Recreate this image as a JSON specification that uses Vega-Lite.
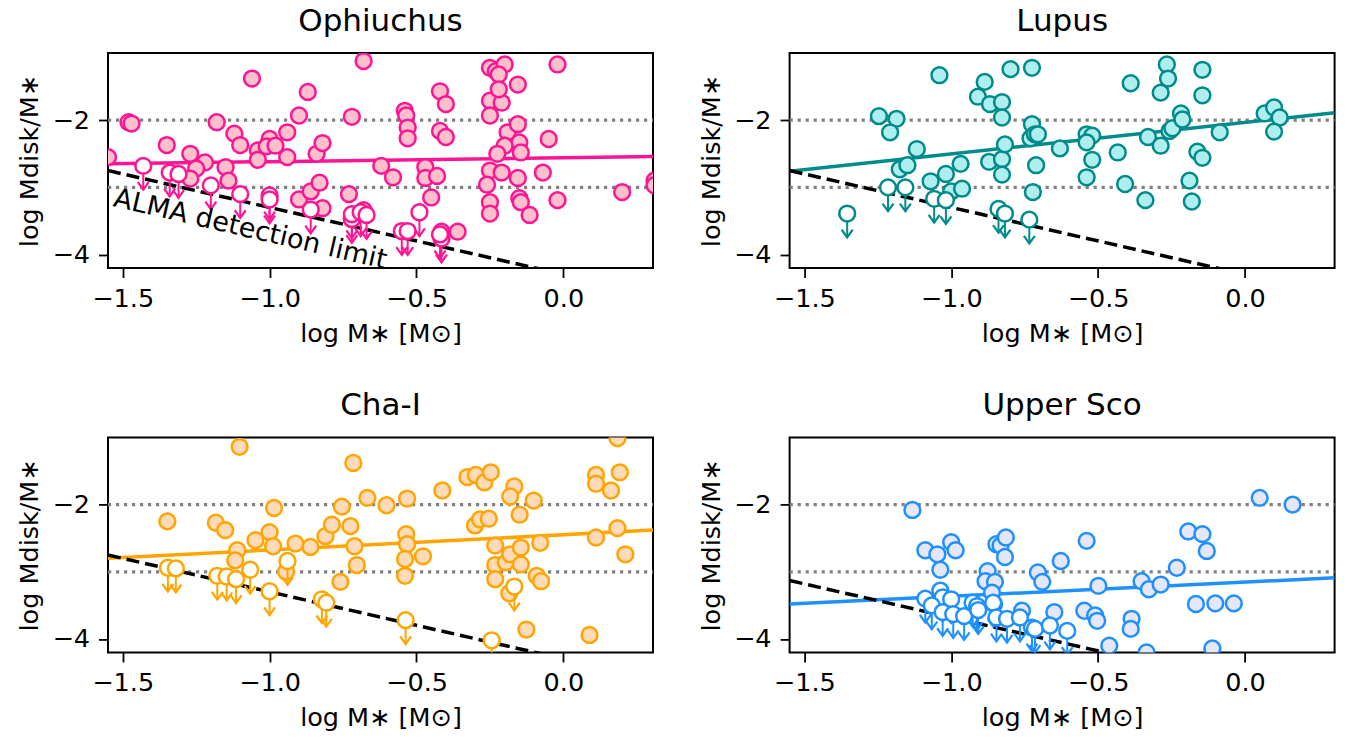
{
"$schema": "https://vega.github.io/schema/vega-lite/v6.json",
"padding": {"left": 16, "top": 5, "right": 5, "bottom": 0},
"autosize": {"type": "pad"},
"datasets": {"d": [
{"region":"all","kind":"ref","grp":"a","logM":-1.55,"ratio":-2},{"region":"all","kind":"ref","grp":"a","logM":0.305,"ratio":-2},
{"region":"all","kind":"ref","grp":"b","logM":-1.55,"ratio":-3},{"region":"all","kind":"ref","grp":"b","logM":0.305,"ratio":-3},
{"region":"Oph","kind":"fit","logM":-1.55,"ratio":-2.65},{"region":"Oph","kind":"fit","logM":0.305,"ratio":-2.54},
{"region":"Lup","kind":"fit","logM":-1.55,"ratio":-2.76},{"region":"Lup","kind":"fit","logM":0.305,"ratio":-1.89},
{"region":"Cha","kind":"fit","logM":-1.55,"ratio":-2.80},{"region":"Cha","kind":"fit","logM":0.305,"ratio":-2.38},
{"region":"USco","kind":"fit","logM":-1.55,"ratio":-3.48},{"region":"USco","kind":"fit","logM":0.305,"ratio":-3.09},
{"region":"Oph","kind":"alma","logM":-1.55,"ratio":-2.75},{"region":"Oph","kind":"alma","logM":0.305,"ratio":-4.6},
{"region":"Lup","kind":"alma","logM":-1.55,"ratio":-2.75},{"region":"Lup","kind":"alma","logM":0.305,"ratio":-4.6},
{"region":"Cha","kind":"alma","logM":-1.55,"ratio":-2.75},{"region":"Cha","kind":"alma","logM":0.305,"ratio":-4.6},
{"region":"USco","kind":"alma","logM":-1.55,"ratio":-3.13},{"region":"USco","kind":"alma","logM":0.305,"ratio":-4.98},
{"region":"Oph","kind":"label","logM":-1.066,"ratio":-3.63,"label":"ALMA detection limit"},

{"region":"Oph","kind":"det","logM":-1.55,"ratio":-2.55},{"region":"Oph","kind":"det","logM":-1.48,"ratio":-2.03},{"region":"Oph","kind":"det","logM":-1.47,"ratio":-2.05},
{"region":"Oph","kind":"det","logM":-1.35,"ratio":-2.37},{"region":"Oph","kind":"det","logM":-1.27,"ratio":-2.50},{"region":"Oph","kind":"det","logM":-1.22,"ratio":-2.63},
{"region":"Oph","kind":"det","logM":-1.25,"ratio":-2.72},{"region":"Oph","kind":"det","logM":-1.27,"ratio":-2.87},{"region":"Oph","kind":"det","logM":-1.18,"ratio":-2.03},
{"region":"Oph","kind":"det","logM":-1.15,"ratio":-2.70},{"region":"Oph","kind":"det","logM":-1.14,"ratio":-2.90},{"region":"Oph","kind":"det","logM":-1.12,"ratio":-2.20},
{"region":"Oph","kind":"det","logM":-1.10,"ratio":-2.37},{"region":"Oph","kind":"det","logM":-1.06,"ratio":-1.38},{"region":"Oph","kind":"det","logM":-1.04,"ratio":-2.45},
{"region":"Oph","kind":"det","logM":-1.04,"ratio":-2.59},{"region":"Oph","kind":"det","logM":-1.00,"ratio":-2.28},{"region":"Oph","kind":"det","logM":-1.01,"ratio":-2.39},
{"region":"Oph","kind":"det","logM":-0.98,"ratio":-2.38},{"region":"Oph","kind":"det","logM":-0.94,"ratio":-2.18},{"region":"Oph","kind":"det","logM":-0.94,"ratio":-2.55},
{"region":"Oph","kind":"det","logM":-0.90,"ratio":-1.93},{"region":"Oph","kind":"det","logM":-0.87,"ratio":-1.58},{"region":"Oph","kind":"det","logM":-0.90,"ratio":-3.18},
{"region":"Oph","kind":"det","logM":-0.86,"ratio":-3.06},{"region":"Oph","kind":"det","logM":-0.83,"ratio":-2.93},{"region":"Oph","kind":"det","logM":-0.82,"ratio":-3.31},
{"region":"Oph","kind":"det","logM":-0.84,"ratio":-2.50},{"region":"Oph","kind":"det","logM":-0.82,"ratio":-2.34},{"region":"Oph","kind":"det","logM":-0.72,"ratio":-1.95},
{"region":"Oph","kind":"det","logM":-0.73,"ratio":-3.10},{"region":"Oph","kind":"det","logM":-0.68,"ratio":-1.12},{"region":"Oph","kind":"det","logM":-0.72,"ratio":-3.47},
{"region":"Oph","kind":"det","logM":-0.68,"ratio":-3.34},{"region":"Oph","kind":"det","logM":-0.62,"ratio":-2.68},{"region":"Oph","kind":"det","logM":-0.58,"ratio":-2.85},
{"region":"Oph","kind":"det","logM":-0.54,"ratio":-1.86},{"region":"Oph","kind":"det","logM":-0.535,"ratio":-1.93},{"region":"Oph","kind":"det","logM":-0.53,"ratio":-2.11},
{"region":"Oph","kind":"det","logM":-0.53,"ratio":-2.27},{"region":"Oph","kind":"det","logM":-0.47,"ratio":-2.70},{"region":"Oph","kind":"det","logM":-0.47,"ratio":-2.86},
{"region":"Oph","kind":"det","logM":-0.43,"ratio":-2.83},{"region":"Oph","kind":"det","logM":-0.45,"ratio":-3.15},{"region":"Oph","kind":"det","logM":-0.42,"ratio":-1.57},
{"region":"Oph","kind":"det","logM":-0.40,"ratio":-1.76},{"region":"Oph","kind":"det","logM":-0.42,"ratio":-2.16},{"region":"Oph","kind":"det","logM":-0.40,"ratio":-2.25},
{"region":"Oph","kind":"det","logM":-0.415,"ratio":-3.66},{"region":"Oph","kind":"det","logM":-0.36,"ratio":-3.66},{"region":"Oph","kind":"det","logM":-0.25,"ratio":-1.22},
{"region":"Oph","kind":"det","logM":-0.23,"ratio":-1.27},{"region":"Oph","kind":"det","logM":-0.20,"ratio":-1.17},{"region":"Oph","kind":"det","logM":-0.22,"ratio":-1.32},
{"region":"Oph","kind":"det","logM":-0.155,"ratio":-1.47},{"region":"Oph","kind":"det","logM":-0.25,"ratio":-1.71},{"region":"Oph","kind":"det","logM":-0.21,"ratio":-1.74},
{"region":"Oph","kind":"det","logM":-0.22,"ratio":-1.54},{"region":"Oph","kind":"det","logM":-0.25,"ratio":-1.93},{"region":"Oph","kind":"det","logM":-0.19,"ratio":-2.18},
{"region":"Oph","kind":"det","logM":-0.155,"ratio":-2.06},{"region":"Oph","kind":"det","logM":-0.15,"ratio":-2.33},{"region":"Oph","kind":"det","logM":-0.20,"ratio":-2.38},
{"region":"Oph","kind":"det","logM":-0.225,"ratio":-2.50},{"region":"Oph","kind":"det","logM":-0.145,"ratio":-2.48},{"region":"Oph","kind":"det","logM":-0.25,"ratio":-2.75},
{"region":"Oph","kind":"det","logM":-0.21,"ratio":-2.78},{"region":"Oph","kind":"det","logM":-0.26,"ratio":-2.96},{"region":"Oph","kind":"det","logM":-0.155,"ratio":-2.86},
{"region":"Oph","kind":"det","logM":-0.25,"ratio":-3.22},{"region":"Oph","kind":"det","logM":-0.25,"ratio":-3.39},{"region":"Oph","kind":"det","logM":-0.15,"ratio":-3.16},
{"region":"Oph","kind":"det","logM":-0.145,"ratio":-3.22},{"region":"Oph","kind":"det","logM":-0.115,"ratio":-3.41},{"region":"Oph","kind":"det","logM":-0.07,"ratio":-2.78},
{"region":"Oph","kind":"det","logM":-0.05,"ratio":-2.28},{"region":"Oph","kind":"det","logM":-0.02,"ratio":-3.19},{"region":"Oph","kind":"det","logM":-0.02,"ratio":-1.17},
{"region":"Oph","kind":"det","logM":0.20,"ratio":-3.07},{"region":"Oph","kind":"det","logM":0.31,"ratio":-2.90},{"region":"Oph","kind":"det","logM":0.31,"ratio":-2.97},
{"region":"Oph","kind":"lim","logM":-1.43,"ratio":-2.68},{"region":"Oph","kind":"lim","logM":-1.34,"ratio":-2.78},{"region":"Oph","kind":"lim","logM":-1.31,"ratio":-2.80},
{"region":"Oph","kind":"lim","logM":-1.20,"ratio":-2.97},{"region":"Oph","kind":"lim","logM":-1.10,"ratio":-3.10},{"region":"Oph","kind":"lim","logM":-1.00,"ratio":-3.12},
{"region":"Oph","kind":"lim","logM":-1.00,"ratio":-3.18},{"region":"Oph","kind":"lim","logM":-0.86,"ratio":-3.33},{"region":"Oph","kind":"lim","logM":-0.72,"ratio":-3.47},
{"region":"Oph","kind":"lim","logM":-0.72,"ratio":-3.40},{"region":"Oph","kind":"lim","logM":-0.69,"ratio":-3.37},{"region":"Oph","kind":"lim","logM":-0.67,"ratio":-3.41},
{"region":"Oph","kind":"lim","logM":-0.49,"ratio":-3.37},{"region":"Oph","kind":"lim","logM":-0.55,"ratio":-3.65},{"region":"Oph","kind":"lim","logM":-0.53,"ratio":-3.65},
{"region":"Oph","kind":"lim","logM":-0.415,"ratio":-3.76},{"region":"Oph","kind":"lim","logM":-0.42,"ratio":-3.70},

{"region":"Lup","kind":"det","logM":-1.04,"ratio":-1.33},{"region":"Lup","kind":"det","logM":-1.246,"ratio":-1.94},{"region":"Lup","kind":"det","logM":-1.186,"ratio":-1.98},
{"region":"Lup","kind":"det","logM":-1.208,"ratio":-2.18},{"region":"Lup","kind":"det","logM":-1.117,"ratio":-2.43},{"region":"Lup","kind":"det","logM":-1.175,"ratio":-2.73},
{"region":"Lup","kind":"det","logM":-1.149,"ratio":-2.67},{"region":"Lup","kind":"det","logM":-1.07,"ratio":-2.91},{"region":"Lup","kind":"det","logM":-1.018,"ratio":-2.80},
{"region":"Lup","kind":"det","logM":-0.968,"ratio":-2.65},{"region":"Lup","kind":"det","logM":-1.0,"ratio":-3.06},{"region":"Lup","kind":"det","logM":-0.963,"ratio":-3.02},
{"region":"Lup","kind":"det","logM":-0.886,"ratio":-1.43},{"region":"Lup","kind":"det","logM":-0.909,"ratio":-1.65},{"region":"Lup","kind":"det","logM":-0.868,"ratio":-1.76},
{"region":"Lup","kind":"det","logM":-0.827,"ratio":-1.73},{"region":"Lup","kind":"det","logM":-0.827,"ratio":-1.96},{"region":"Lup","kind":"det","logM":-0.798,"ratio":-1.24},
{"region":"Lup","kind":"det","logM":-0.725,"ratio":-1.22},{"region":"Lup","kind":"det","logM":-0.871,"ratio":-2.62},{"region":"Lup","kind":"det","logM":-0.827,"ratio":-2.58},
{"region":"Lup","kind":"det","logM":-0.817,"ratio":-2.36},{"region":"Lup","kind":"det","logM":-0.827,"ratio":-2.81},{"region":"Lup","kind":"det","logM":-0.725,"ratio":-2.06},
{"region":"Lup","kind":"det","logM":-0.73,"ratio":-2.27},{"region":"Lup","kind":"det","logM":-0.715,"ratio":-2.21},{"region":"Lup","kind":"det","logM":-0.705,"ratio":-2.21},
{"region":"Lup","kind":"det","logM":-0.711,"ratio":-2.67},{"region":"Lup","kind":"det","logM":-0.722,"ratio":-3.07},{"region":"Lup","kind":"det","logM":-0.63,"ratio":-2.42},
{"region":"Lup","kind":"det","logM":-0.539,"ratio":-2.21},{"region":"Lup","kind":"det","logM":-0.52,"ratio":-2.23},{"region":"Lup","kind":"det","logM":-0.539,"ratio":-2.33},
{"region":"Lup","kind":"det","logM":-0.52,"ratio":-2.59},{"region":"Lup","kind":"det","logM":-0.539,"ratio":-2.85},{"region":"Lup","kind":"det","logM":-0.433,"ratio":-2.48},
{"region":"Lup","kind":"det","logM":-0.408,"ratio":-2.95},{"region":"Lup","kind":"det","logM":-0.389,"ratio":-1.45},{"region":"Lup","kind":"det","logM":-0.339,"ratio":-3.19},
{"region":"Lup","kind":"det","logM":-0.33,"ratio":-2.25},{"region":"Lup","kind":"det","logM":-0.287,"ratio":-1.59},{"region":"Lup","kind":"det","logM":-0.287,"ratio":-2.38},
{"region":"Lup","kind":"det","logM":-0.266,"ratio":-1.17},{"region":"Lup","kind":"det","logM":-0.262,"ratio":-1.38},{"region":"Lup","kind":"det","logM":-0.257,"ratio":-2.16},
{"region":"Lup","kind":"det","logM":-0.247,"ratio":-2.12},{"region":"Lup","kind":"det","logM":-0.218,"ratio":-1.90},{"region":"Lup","kind":"det","logM":-0.213,"ratio":-1.99},
{"region":"Lup","kind":"det","logM":-0.189,"ratio":-2.90},{"region":"Lup","kind":"det","logM":-0.181,"ratio":-3.21},{"region":"Lup","kind":"det","logM":-0.162,"ratio":-2.47},
{"region":"Lup","kind":"det","logM":-0.145,"ratio":-2.56},{"region":"Lup","kind":"det","logM":-0.145,"ratio":-1.25},{"region":"Lup","kind":"det","logM":-0.145,"ratio":-1.63},
{"region":"Lup","kind":"det","logM":-0.086,"ratio":-2.18},{"region":"Lup","kind":"det","logM":0.067,"ratio":-1.90},{"region":"Lup","kind":"det","logM":0.099,"ratio":-1.81},
{"region":"Lup","kind":"det","logM":0.118,"ratio":-1.96},{"region":"Lup","kind":"det","logM":0.099,"ratio":-2.17},
{"region":"Lup","kind":"lim","logM":-1.354,"ratio":-3.39},{"region":"Lup","kind":"lim","logM":-1.215,"ratio":-3.00},{"region":"Lup","kind":"lim","logM":-1.156,"ratio":-3.00},
{"region":"Lup","kind":"lim","logM":-1.058,"ratio":-3.17},{"region":"Lup","kind":"lim","logM":-1.018,"ratio":-3.19},{"region":"Lup","kind":"lim","logM":-0.839,"ratio":-3.32},
{"region":"Lup","kind":"lim","logM":-0.817,"ratio":-3.39},{"region":"Lup","kind":"lim","logM":-0.734,"ratio":-3.48},

{"region":"Cha","kind":"det","logM":-1.102,"ratio":-1.14},{"region":"Cha","kind":"det","logM":-0.715,"ratio":-1.38},{"region":"Cha","kind":"det","logM":-1.348,"ratio":-2.25},
{"region":"Cha","kind":"det","logM":-1.183,"ratio":-2.27},{"region":"Cha","kind":"det","logM":-1.151,"ratio":-2.38},{"region":"Cha","kind":"det","logM":-1.0,"ratio":-2.41},
{"region":"Cha","kind":"det","logM":-0.985,"ratio":-2.05},{"region":"Cha","kind":"det","logM":-1.048,"ratio":-2.53},{"region":"Cha","kind":"det","logM":-0.988,"ratio":-2.62},
{"region":"Cha","kind":"det","logM":-1.11,"ratio":-2.68},{"region":"Cha","kind":"det","logM":-1.117,"ratio":-2.83},{"region":"Cha","kind":"det","logM":-0.944,"ratio":-3.0},
{"region":"Cha","kind":"det","logM":-0.912,"ratio":-2.58},{"region":"Cha","kind":"det","logM":-0.861,"ratio":-2.63},{"region":"Cha","kind":"det","logM":-0.81,"ratio":-2.47},
{"region":"Cha","kind":"det","logM":-0.788,"ratio":-2.30},{"region":"Cha","kind":"det","logM":-0.754,"ratio":-2.03},{"region":"Cha","kind":"det","logM":-0.725,"ratio":-2.32},
{"region":"Cha","kind":"det","logM":-0.711,"ratio":-2.62},{"region":"Cha","kind":"det","logM":-0.703,"ratio":-2.90},{"region":"Cha","kind":"det","logM":-0.759,"ratio":-3.15},
{"region":"Cha","kind":"det","logM":-0.667,"ratio":-1.90},{"region":"Cha","kind":"det","logM":-0.602,"ratio":-2.01},{"region":"Cha","kind":"det","logM":-0.532,"ratio":-1.91},
{"region":"Cha","kind":"det","logM":-0.535,"ratio":-2.44},{"region":"Cha","kind":"det","logM":-0.532,"ratio":-2.59},{"region":"Cha","kind":"det","logM":-0.539,"ratio":-2.81},
{"region":"Cha","kind":"det","logM":-0.539,"ratio":-3.06},{"region":"Cha","kind":"det","logM":-0.478,"ratio":-2.77},{"region":"Cha","kind":"det","logM":-0.412,"ratio":-1.79},
{"region":"Cha","kind":"det","logM":-0.327,"ratio":-1.59},{"region":"Cha","kind":"det","logM":-0.298,"ratio":-1.56},{"region":"Cha","kind":"det","logM":-0.269,"ratio":-1.67},
{"region":"Cha","kind":"det","logM":-0.247,"ratio":-1.52},{"region":"Cha","kind":"det","logM":-0.301,"ratio":-2.31},{"region":"Cha","kind":"det","logM":-0.284,"ratio":-2.22},
{"region":"Cha","kind":"det","logM":-0.254,"ratio":-2.21},{"region":"Cha","kind":"det","logM":-0.232,"ratio":-2.61},{"region":"Cha","kind":"det","logM":-0.232,"ratio":-2.90},
{"region":"Cha","kind":"det","logM":-0.196,"ratio":-2.86},{"region":"Cha","kind":"det","logM":-0.181,"ratio":-2.74},{"region":"Cha","kind":"det","logM":-0.232,"ratio":-3.11},
{"region":"Cha","kind":"det","logM":-0.184,"ratio":-3.32},{"region":"Cha","kind":"det","logM":-0.167,"ratio":-1.73},{"region":"Cha","kind":"det","logM":-0.181,"ratio":-1.88},
{"region":"Cha","kind":"det","logM":-0.149,"ratio":-2.15},{"region":"Cha","kind":"det","logM":-0.145,"ratio":-2.64},{"region":"Cha","kind":"det","logM":-0.145,"ratio":-2.89},
{"region":"Cha","kind":"det","logM":-0.101,"ratio":-1.94},{"region":"Cha","kind":"det","logM":-0.091,"ratio":-3.06},{"region":"Cha","kind":"det","logM":-0.076,"ratio":-3.14},
{"region":"Cha","kind":"det","logM":-0.079,"ratio":-2.57},{"region":"Cha","kind":"det","logM":-0.126,"ratio":-3.86},{"region":"Cha","kind":"det","logM":0.089,"ratio":-3.94},
{"region":"Cha","kind":"det","logM":0.111,"ratio":-1.56},{"region":"Cha","kind":"det","logM":0.111,"ratio":-1.69},{"region":"Cha","kind":"det","logM":0.162,"ratio":-1.79},
{"region":"Cha","kind":"det","logM":0.184,"ratio":-2.35},{"region":"Cha","kind":"det","logM":0.111,"ratio":-2.49},{"region":"Cha","kind":"det","logM":0.192,"ratio":-1.52},
{"region":"Cha","kind":"det","logM":0.184,"ratio":-1.01},{"region":"Cha","kind":"det","logM":0.211,"ratio":-2.74},
{"region":"Cha","kind":"lim","logM":-1.346,"ratio":-2.94},{"region":"Cha","kind":"lim","logM":-1.319,"ratio":-2.95},{"region":"Cha","kind":"lim","logM":-1.178,"ratio":-3.06},
{"region":"Cha","kind":"lim","logM":-1.146,"ratio":-3.07},{"region":"Cha","kind":"lim","logM":-1.114,"ratio":-3.11},{"region":"Cha","kind":"lim","logM":-1.066,"ratio":-2.97},
{"region":"Cha","kind":"lim","logM":-1.0,"ratio":-3.29},{"region":"Cha","kind":"lim","logM":-0.939,"ratio":-2.84},{"region":"Cha","kind":"lim","logM":-0.822,"ratio":-3.41},
{"region":"Cha","kind":"lim","logM":-0.807,"ratio":-3.46},{"region":"Cha","kind":"lim","logM":-0.537,"ratio":-3.72},{"region":"Cha","kind":"lim","logM":-0.244,"ratio":-4.02},
{"region":"Cha","kind":"lim","logM":-0.167,"ratio":-3.22},

{"region":"USco","kind":"det","logM":-1.132,"ratio":-2.08},{"region":"USco","kind":"det","logM":-1.088,"ratio":-2.68},{"region":"USco","kind":"det","logM":-1.047,"ratio":-2.74},
{"region":"USco","kind":"det","logM":-1.037,"ratio":-2.97},{"region":"USco","kind":"det","logM":-1.0,"ratio":-2.56},{"region":"USco","kind":"det","logM":-0.985,"ratio":-2.68},
{"region":"USco","kind":"det","logM":-0.876,"ratio":-2.99},{"region":"USco","kind":"det","logM":-0.883,"ratio":-3.14},{"region":"USco","kind":"det","logM":-0.851,"ratio":-3.15},
{"region":"USco","kind":"det","logM":-0.846,"ratio":-2.59},{"region":"USco","kind":"det","logM":-0.832,"ratio":-2.61},{"region":"USco","kind":"det","logM":-0.814,"ratio":-2.49},
{"region":"USco","kind":"det","logM":-0.817,"ratio":-2.78},{"region":"USco","kind":"det","logM":-0.861,"ratio":-3.31},{"region":"USco","kind":"det","logM":-0.854,"ratio":-3.48},
{"region":"USco","kind":"det","logM":-0.705,"ratio":-3.01},{"region":"USco","kind":"det","logM":-0.69,"ratio":-3.15},{"region":"USco","kind":"det","logM":-0.627,"ratio":-2.84},
{"region":"USco","kind":"det","logM":-0.539,"ratio":-2.54},{"region":"USco","kind":"det","logM":-0.499,"ratio":-3.21},{"region":"USco","kind":"det","logM":-0.547,"ratio":-3.58},
{"region":"USco","kind":"det","logM":-0.51,"ratio":-3.65},{"region":"USco","kind":"det","logM":-0.503,"ratio":-3.73},{"region":"USco","kind":"det","logM":-0.759,"ratio":-3.58},
{"region":"USco","kind":"det","logM":-0.649,"ratio":-3.60},{"region":"USco","kind":"det","logM":-0.386,"ratio":-3.70},{"region":"USco","kind":"det","logM":-0.389,"ratio":-3.85},
{"region":"USco","kind":"det","logM":-0.352,"ratio":-3.14},{"region":"USco","kind":"det","logM":-0.327,"ratio":-3.26},{"region":"USco","kind":"det","logM":-0.287,"ratio":-3.19},
{"region":"USco","kind":"det","logM":-0.232,"ratio":-2.94},{"region":"USco","kind":"det","logM":-0.193,"ratio":-2.40},{"region":"USco","kind":"det","logM":-0.145,"ratio":-2.44},
{"region":"USco","kind":"det","logM":-0.13,"ratio":-2.69},{"region":"USco","kind":"det","logM":-0.167,"ratio":-3.48},{"region":"USco","kind":"det","logM":-0.101,"ratio":-3.47},
{"region":"USco","kind":"det","logM":-0.038,"ratio":-3.47},{"region":"USco","kind":"det","logM":-0.111,"ratio":-4.14},{"region":"USco","kind":"det","logM":-0.335,"ratio":-4.20},
{"region":"USco","kind":"det","logM":-0.462,"ratio":-4.10},{"region":"USco","kind":"det","logM":0.05,"ratio":-1.90},{"region":"USco","kind":"det","logM":0.162,"ratio":-2.0},
{"region":"USco","kind":"lim","logM":-1.088,"ratio":-3.40},{"region":"USco","kind":"lim","logM":-1.037,"ratio":-3.28},{"region":"USco","kind":"lim","logM":-1.029,"ratio":-3.38},
{"region":"USco","kind":"lim","logM":-1.0,"ratio":-3.41},{"region":"USco","kind":"lim","logM":-1.066,"ratio":-3.50},{"region":"USco","kind":"lim","logM":-1.029,"ratio":-3.60},
{"region":"USco","kind":"lim","logM":-0.993,"ratio":-3.63},{"region":"USco","kind":"lim","logM":-0.956,"ratio":-3.66},{"region":"USco","kind":"lim","logM":-0.927,"ratio":-3.46},
{"region":"USco","kind":"lim","logM":-0.912,"ratio":-3.51},{"region":"USco","kind":"lim","logM":-0.908,"ratio":-3.57},{"region":"USco","kind":"lim","logM":-0.857,"ratio":-3.46},
{"region":"USco","kind":"lim","logM":-0.846,"ratio":-3.68},{"region":"USco","kind":"lim","logM":-0.81,"ratio":-3.70},{"region":"USco","kind":"lim","logM":-0.766,"ratio":-3.68},
{"region":"USco","kind":"lim","logM":-0.725,"ratio":-3.83},{"region":"USco","kind":"lim","logM":-0.715,"ratio":-3.85},{"region":"USco","kind":"lim","logM":-0.664,"ratio":-3.80},
{"region":"USco","kind":"lim","logM":-0.605,"ratio":-3.88}
]},
"data": {"name": "d"},
"columns": 2,
"spacing": {"row": 169.4, "column": 136.6},
"bounds": "flush",
"concat": [
{
 "title": {"text": "Ophiuchus"},
 "width": 545, "height": 215,
 "transform": [{"filter": "datum.region === 'Oph' || datum.region === 'all'"}],
 "encoding": {
  "x": {"field": "logM", "type": "quantitative", "scale": {"domain": [-1.55, 0.305], "nice": false, "zero": false}, "axis": {"values": [-1.5, -1, -0.5, 0], "format": ".1f", "title": "log M∗ [M⊙]"}},
  "y": {"field": "ratio", "type": "quantitative", "scale": {"domain": [-4.2, -1.0], "nice": false, "zero": false}, "axis": {"values": [-4, -2], "format": "d", "title": "log Mdisk/M∗"}}
 },
 "layer": [
  {"transform": [{"filter": "datum.kind === 'ref'"}], "mark": {"type": "line", "color": "#808080", "strokeWidth": 3.2, "strokeDash": [3.2, 4.8]}, "encoding": {"detail": {"field": "grp"}}},
  {"transform": [{"filter": "datum.kind === 'fit'"}], "mark": {"type": "line", "color": "#FF1493", "strokeWidth": 3.5, "clip": true}},
  {"transform": [{"filter": "datum.kind === 'alma'"}], "mark": {"type": "line", "color": "black", "strokeWidth": 3.5, "strokeDash": [13, 6], "clip": true}},
  {"transform": [{"filter": "datum.kind === 'det'"}], "mark": {"type": "point", "filled": true, "fill": "#FFC0CB", "stroke": "#FF1493", "strokeWidth": 2.5, "size": 250, "opacity": 1, "clip": true}},
  {"transform": [{"filter": "datum.kind === 'lim'"}], "mark": {"type": "rule", "color": "#FF1493", "strokeWidth": 2, "y2Offset": 24, "clip": true}, "encoding": {"y2": {"field": "ratio"}}},
  {"transform": [{"filter": "datum.kind === 'lim'"}], "mark": {"type": "point", "shape": "M-1,-0.7L0,0.7L1,-0.7", "filled": false, "stroke": "#FF1493", "strokeWidth": 2.2, "size": 120, "yOffset": 20, "opacity": 1, "clip": true}},
  {"transform": [{"filter": "datum.kind === 'lim'"}], "mark": {"type": "point", "filled": true, "fill": "white", "stroke": "#FF1493", "strokeWidth": 2.5, "size": 250, "opacity": 1, "clip": true}},
  {"transform": [{"filter": "datum.kind === 'label'"}], "mark": {"type": "text", "angle": 13, "fontSize": 27, "font": "DejaVu Sans", "align": "center", "baseline": "middle", "color": "black"}, "encoding": {"text": {"field": "label"}}}
 ]
},
{
 "title": {"text": "Lupus"},
 "width": 545, "height": 215,
 "transform": [{"filter": "datum.region === 'Lup' || datum.region === 'all'"}],
 "encoding": {
  "x": {"field": "logM", "type": "quantitative", "scale": {"domain": [-1.55, 0.305], "nice": false, "zero": false}, "axis": {"values": [-1.5, -1, -0.5, 0], "format": ".1f", "title": "log M∗ [M⊙]"}},
  "y": {"field": "ratio", "type": "quantitative", "scale": {"domain": [-4.2, -1.0], "nice": false, "zero": false}, "axis": {"values": [-4, -2], "format": "d", "title": "log Mdisk/M∗"}}
 },
 "layer": [
  {"transform": [{"filter": "datum.kind === 'ref'"}], "mark": {"type": "line", "color": "#808080", "strokeWidth": 3.2, "strokeDash": [3.2, 4.8]}, "encoding": {"detail": {"field": "grp"}}},
  {"transform": [{"filter": "datum.kind === 'fit'"}], "mark": {"type": "line", "color": "#008B8B", "strokeWidth": 3.5, "clip": true}},
  {"transform": [{"filter": "datum.kind === 'alma'"}], "mark": {"type": "line", "color": "black", "strokeWidth": 3.5, "strokeDash": [13, 6], "clip": true}},
  {"transform": [{"filter": "datum.kind === 'det'"}], "mark": {"type": "point", "filled": true, "fill": "#AFEEEE", "stroke": "#008B8B", "strokeWidth": 2.5, "size": 250, "opacity": 1, "clip": true}},
  {"transform": [{"filter": "datum.kind === 'lim'"}], "mark": {"type": "rule", "color": "#008B8B", "strokeWidth": 2, "y2Offset": 24, "clip": true}, "encoding": {"y2": {"field": "ratio"}}},
  {"transform": [{"filter": "datum.kind === 'lim'"}], "mark": {"type": "point", "shape": "M-1,-0.7L0,0.7L1,-0.7", "filled": false, "stroke": "#008B8B", "strokeWidth": 2.2, "size": 120, "yOffset": 20, "opacity": 1, "clip": true}},
  {"transform": [{"filter": "datum.kind === 'lim'"}], "mark": {"type": "point", "filled": true, "fill": "white", "stroke": "#008B8B", "strokeWidth": 2.5, "size": 250, "opacity": 1, "clip": true}}
 ]
},
{
 "title": {"text": "Cha-I"},
 "width": 545, "height": 215,
 "transform": [{"filter": "datum.region === 'Cha' || datum.region === 'all'"}],
 "encoding": {
  "x": {"field": "logM", "type": "quantitative", "scale": {"domain": [-1.55, 0.305], "nice": false, "zero": false}, "axis": {"values": [-1.5, -1, -0.5, 0], "format": ".1f", "title": "log M∗ [M⊙]"}},
  "y": {"field": "ratio", "type": "quantitative", "scale": {"domain": [-4.2, -1.0], "nice": false, "zero": false}, "axis": {"values": [-4, -2], "format": "d", "title": "log Mdisk/M∗"}}
 },
 "layer": [
  {"transform": [{"filter": "datum.kind === 'ref'"}], "mark": {"type": "line", "color": "#808080", "strokeWidth": 3.2, "strokeDash": [3.2, 4.8]}, "encoding": {"detail": {"field": "grp"}}},
  {"transform": [{"filter": "datum.kind === 'fit'"}], "mark": {"type": "line", "color": "#FFA500", "strokeWidth": 3.5, "clip": true}},
  {"transform": [{"filter": "datum.kind === 'alma'"}], "mark": {"type": "line", "color": "black", "strokeWidth": 3.5, "strokeDash": [13, 6], "clip": true}},
  {"transform": [{"filter": "datum.kind === 'det'"}], "mark": {"type": "point", "filled": true, "fill": "#FFDAB9", "stroke": "#FFA500", "strokeWidth": 2.5, "size": 250, "opacity": 1, "clip": true}},
  {"transform": [{"filter": "datum.kind === 'lim'"}], "mark": {"type": "rule", "color": "#FFA500", "strokeWidth": 2, "y2Offset": 24, "clip": true}, "encoding": {"y2": {"field": "ratio"}}},
  {"transform": [{"filter": "datum.kind === 'lim'"}], "mark": {"type": "point", "shape": "M-1,-0.7L0,0.7L1,-0.7", "filled": false, "stroke": "#FFA500", "strokeWidth": 2.2, "size": 120, "yOffset": 20, "opacity": 1, "clip": true}},
  {"transform": [{"filter": "datum.kind === 'lim'"}], "mark": {"type": "point", "filled": true, "fill": "white", "stroke": "#FFA500", "strokeWidth": 2.5, "size": 250, "opacity": 1, "clip": true}}
 ]
},
{
 "title": {"text": "Upper Sco"},
 "width": 545, "height": 215,
 "transform": [{"filter": "datum.region === 'USco' || datum.region === 'all'"}],
 "encoding": {
  "x": {"field": "logM", "type": "quantitative", "scale": {"domain": [-1.55, 0.305], "nice": false, "zero": false}, "axis": {"values": [-1.5, -1, -0.5, 0], "format": ".1f", "title": "log M∗ [M⊙]"}},
  "y": {"field": "ratio", "type": "quantitative", "scale": {"domain": [-4.2, -1.0], "nice": false, "zero": false}, "axis": {"values": [-4, -2], "format": "d", "title": "log Mdisk/M∗"}}
 },
 "layer": [
  {"transform": [{"filter": "datum.kind === 'ref'"}], "mark": {"type": "line", "color": "#808080", "strokeWidth": 3.2, "strokeDash": [3.2, 4.8]}, "encoding": {"detail": {"field": "grp"}}},
  {"transform": [{"filter": "datum.kind === 'fit'"}], "mark": {"type": "line", "color": "#1E90FF", "strokeWidth": 3.5, "clip": true}},
  {"transform": [{"filter": "datum.kind === 'alma'"}], "mark": {"type": "line", "color": "black", "strokeWidth": 3.5, "strokeDash": [13, 6], "clip": true}},
  {"transform": [{"filter": "datum.kind === 'det'"}], "mark": {"type": "point", "filled": true, "fill": "#E6E6FA", "stroke": "#1E90FF", "strokeWidth": 2.5, "size": 250, "opacity": 1, "clip": true}},
  {"transform": [{"filter": "datum.kind === 'lim'"}], "mark": {"type": "rule", "color": "#1E90FF", "strokeWidth": 2, "y2Offset": 24, "clip": true}, "encoding": {"y2": {"field": "ratio"}}},
  {"transform": [{"filter": "datum.kind === 'lim'"}], "mark": {"type": "point", "shape": "M-1,-0.7L0,0.7L1,-0.7", "filled": false, "stroke": "#1E90FF", "strokeWidth": 2.2, "size": 120, "yOffset": 20, "opacity": 1, "clip": true}},
  {"transform": [{"filter": "datum.kind === 'lim'"}], "mark": {"type": "point", "filled": true, "fill": "white", "stroke": "#1E90FF", "strokeWidth": 2.5, "size": 250, "opacity": 1, "clip": true}}
 ]
}
],
"config": {
 "font": "DejaVu Sans",
 "background": "white",
 "view": {"stroke": "black", "strokeWidth": 2},
 "axis": {"domain": false, "grid": false, "ticks": true, "tickColor": "black", "tickWidth": 1.8, "tickSize": 9.5, "labelFontSize": 25.5, "labelColor": "black", "labelPadding": 9, "labelFlush": false, "labelOverlap": false, "titleFontSize": 25.5, "titleFontWeight": "normal", "titleColor": "black", "titlePadding": 9, "labelFont": "DejaVu Sans", "titleFont": "DejaVu Sans"},
 "title": {"fontSize": 31, "fontWeight": "normal", "font": "DejaVu Sans", "color": "black", "anchor": "middle", "offset": 15, "baseline": "alphabetic"}
}
}
